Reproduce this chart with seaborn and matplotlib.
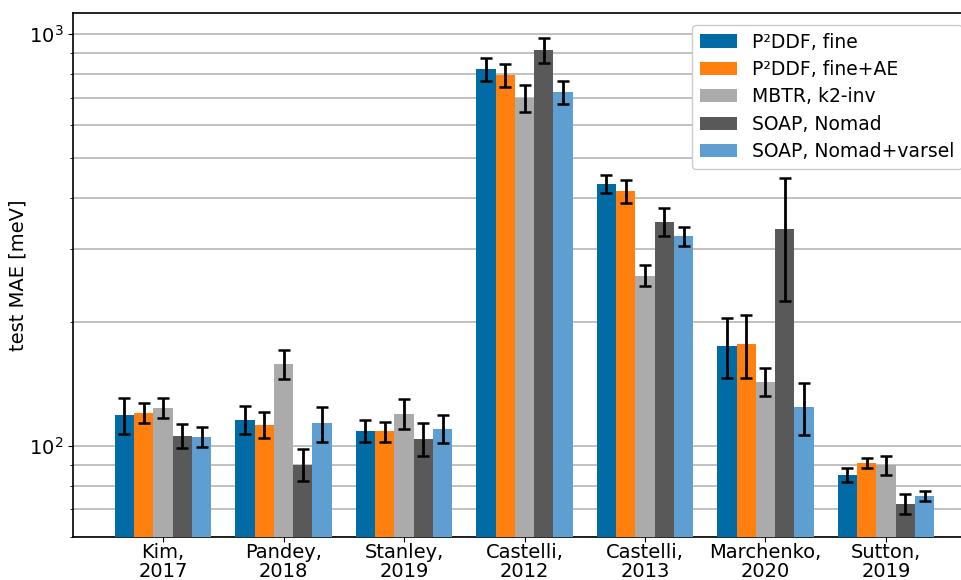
import numpy as np
import pandas as pd
import matplotlib
matplotlib.use("Agg")
import matplotlib.pyplot as plt
import matplotlib.ticker as mticker
import seaborn as sns

datasets = ["Kim,\n2017", "Pandey,\n2018", "Stanley,\n2019", "Castelli,\n2012",
            "Castelli,\n2013", "Marchenko,\n2020", "Sutton,\n2019"]
methods = ["P\u00b2DDF, fine", "P\u00b2DDF, fine+AE", "MBTR, k2-inv",
           "SOAP, Nomad", "SOAP, Nomad+varsel"]
colors = ["#006BA4", "#FF800E", "#ABABAB", "#595959", "#5F9ED1"]

p2ddf_fine = [118.5, 115.6, 108.7, 822, 432, 175, 85.0]
p2ddf_fine_ae = [120.2, 112.4, 108.3, 795, 416, 177, 90.8]
mbtr_k2inv = [123.6, 158, 119.6, 699, 259, 143, 89.8]
soap_nomad = [105.7, 90.0, 104.0, 914, 350, 336, 72.3]
soap_nomad_varsel = [105.1, 113.3, 110.0, 723, 323, 124.3, 75.6]

p2ddf_fine_err = [12, 9, 6.7, 55, 22, 29, 3.3]
p2ddf_fine_ae_err = [6.6, 8, 6, 50, 27, 31, 2.4]
mbtr_k2inv_err = [7, 12.5, 10, 51, 15, 11, 4.8]
soap_nomad_err = [7, 8, 9.4, 63, 27, 111, 4]
soap_nomad_varsel_err = [6, 11, 8.7, 46, 17, 18, 2.2]

values = [p2ddf_fine, p2ddf_fine_ae, mbtr_k2inv, soap_nomad, soap_nomad_varsel]
errors = [p2ddf_fine_err, p2ddf_fine_ae_err, mbtr_k2inv_err, soap_nomad_err, soap_nomad_varsel_err]

rows = []
for m, vals in zip(methods, values):
    for d, v in zip(datasets, vals):
        rows.append({"dataset": d, "method": m, "mae": v})
df = pd.DataFrame(rows)

plt.rcParams["font.family"] = ["DejaVu Sans"]

fig = plt.figure(figsize=(9.62, 5.8), dpi=100)
ax = fig.add_axes([73 / 962, 43 / 580, 903 / 962, 524 / 580])

sns.barplot(data=df, x="dataset", y="mae", hue="method", order=datasets,
            hue_order=methods, palette=colors, saturation=1, errorbar=None,
            width=0.8, ax=ax, zorder=3)

for cont, errs in zip(ax.containers, errors):
    xs = [b.get_x() + b.get_width() / 2 for b in cont]
    hs = [b.get_height() for b in cont]
    ax.errorbar(xs, hs, yerr=errs, fmt="none", ecolor="black", elinewidth=2,
                capsize=4, capthick=1.8, zorder=4)

ax.set_yscale("log")
ax.set_ylim(60, 1125)
ax.set_xlim(-0.747, 6.747)
ax.yaxis.set_minor_formatter(mticker.NullFormatter())
ax.grid(axis="y", which="both", color="#b0b0b0", linewidth=1.1, zorder=0)
ax.set_axisbelow(True)
for s in ax.spines.values():
    s.set_linewidth(1.2)
ax.tick_params(axis="x", labelsize=14, pad=0.5, length=3.5)
ax.tick_params(axis="y", which="major", labelsize=14)
for lbl in ax.get_xticklabels():
    lbl.set_linespacing(1.05)
ax.set_xlabel("")
ax.set_ylabel("test MAE [meV]", fontsize=14, labelpad=1)

ax.legend(loc="upper left", bbox_to_anchor=(0.6855, 0.977), borderaxespad=0,
          fontsize=13.5, handlelength=2.0, labelspacing=0.45, framealpha=1)

fig.savefig("out.png", dpi=100)
